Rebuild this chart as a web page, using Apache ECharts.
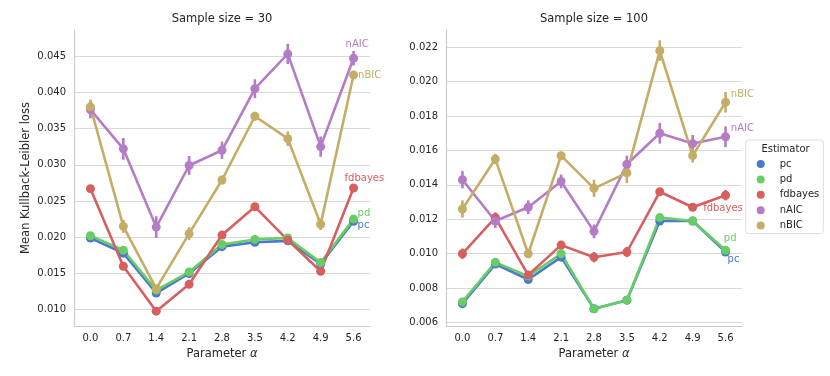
<!DOCTYPE html>
<html>
<head>
<meta charset="utf-8">
<script src="https://cdn.jsdelivr.net/npm/echarts@6/dist/echarts.min.js"></script>
<style>html,body{margin:0;padding:0;background:#fff;}#c{width:830px;height:376px;}</style>
</head>
<body>
<div id="c"></div>
<script>
const categories = ['0.0','0.7','1.4','2.1','2.8','3.5','4.2','4.9','5.6'];
const estimators = ['pc','pd','fdbayes','nAIC','nBIC'];
const yTicks30 = ['0.010','0.015','0.020','0.025','0.030','0.035','0.040','0.045'];
const yTicks100 = ['0.006','0.008','0.010','0.012','0.014','0.016','0.018','0.020','0.022'];

// Sample size = 30 : means
const pc30      = [0.0199,0.0178,0.0123,0.0150,0.0187,0.0193,0.0195,0.0163,0.0222];
const pd30      = [0.0202,0.0182,0.0127,0.0152,0.0190,0.0197,0.0199,0.0165,0.0225];
const fdbayes30 = [0.0267,0.0160,0.0098,0.0135,0.0203,0.0242,0.0196,0.0153,0.0268];
const nAIC30    = [0.0376,0.0322,0.0214,0.0299,0.0320,0.0405,0.0453,0.0325,0.0447];
const nBIC30    = [0.0380,0.0215,0.0129,0.0205,0.0279,0.0367,0.0336,0.0218,0.0424];
// Sample size = 30 : CI half-widths
const pcErr30      = [0.0003,0.0003,0.0003,0.0003,0.0003,0.0003,0.0003,0.0003,0.0003];
const pdErr30      = [0.0003,0.0003,0.0003,0.0003,0.0003,0.0003,0.0003,0.0003,0.0003];
const fdbayesErr30 = [0.0003,0.0003,0.0002,0.0003,0.0003,0.0003,0.0003,0.0003,0.0003];
const nAICErr30    = [0.0012,0.0015,0.0015,0.0013,0.0012,0.0013,0.0014,0.0014,0.0010];
const nBICErr30    = [0.0010,0.0009,0.0005,0.0009,0.0006,0.0006,0.0010,0.0008,0.0005];

// Sample size = 100 : means
const pc100      = [0.0071,0.0094,0.0085,0.0098,0.0068,0.0073,0.0119,0.0119,0.0101];
const pd100      = [0.0072,0.0095,0.0087,0.0100,0.0068,0.0073,0.0121,0.0119,0.0102];
const fdbayes100 = [0.0100,0.0121,0.00876,0.0105,0.0098,0.0101,0.0136,0.0127,0.0134];
const nAIC100    = [0.0143,0.0119,0.0127,0.0142,0.0113,0.0152,0.0170,0.0164,0.0168];
const nBIC100    = [0.0126,0.0155,0.0100,0.0157,0.0138,0.0147,0.0218,0.0157,0.0188];
// Sample size = 100 : CI half-widths
const pcErr100      = [0.0002,0.0002,0.0002,0.0002,0.0002,0.0002,0.0002,0.0002,0.0002];
const pdErr100      = [0.0002,0.0002,0.0002,0.0002,0.0002,0.0002,0.0002,0.0002,0.0002];
const fdbayesErr100 = [0.0003,0.0003,0.0002,0.0002,0.0003,0.0003,0.0002,0.0002,0.0003];
const nAICErr100    = [0.0005,0.0004,0.0004,0.0004,0.0004,0.0005,0.0006,0.0005,0.0006];
const nBICErr100    = [0.0005,0.0003,0.0002,0.0002,0.0005,0.0006,0.0006,0.0004,0.0006];

const colors = {pc:'#4878CF', pd:'#6ACC65', fdbayes:'#D65F5F', nAIC:'#B47CC7', nBIC:'#C4AD66'};
const FONT = 'DejaVu Sans';
const TXT = '#262626';

const panels = [
  {means:{pc:pc30,pd:pd30,fdbayes:fdbayes30,nAIC:nAIC30,nBIC:nBIC30},
   errs:{pc:pcErr30,pd:pdErr30,fdbayes:fdbayesErr30,nAIC:nAICErr30,nBIC:nBICErr30},
   offsets:{pc:[4,4],pd:[4,-6],fdbayes:[-9,-10],nAIC:[-8,-13.5],nBIC:[4.5,0]}},
  {means:{pc:pc100,pd:pd100,fdbayes:fdbayes100,nAIC:nAIC100,nBIC:nBIC100},
   errs:{pc:pcErr100,pd:pdErr100,fdbayes:fdbayesErr100,nAIC:nAICErr100,nBIC:nBICErr100},
   offsets:{pc:[2,7],pd:[-1.7,-11.5],fdbayes:[-22.4,13.6],nAIC:[5.3,-8],nBIC:[5.3,-7.5]}}
];

const series = [];
panels.forEach((p, pi) => {
  estimators.forEach(name => {
    const m = p.means[name], e = p.errs[name], col = colors[name];
    series.push({
      type:'custom', name: name + '-ci-' + pi, xAxisIndex: pi, yAxisIndex: pi,
      data: m.map((v,i) => [i, v - e[i], v + e[i]]),
      encode:{x:0, y:[1,2]},
      silent:true,
      renderItem:(params, api) => {
        const a = api.coord([api.value(0), api.value(1)]);
        const b = api.coord([api.value(0), api.value(2)]);
        return {type:'line', shape:{x1:a[0],y1:a[1],x2:b[0],y2:b[1]}, style:{stroke:col, lineWidth:2.6}};
      }
    });
    series.push({
      type:'line', name: name, xAxisIndex: pi, yAxisIndex: pi,
      data: m,
      symbol:'circle', symbolSize:9, showSymbol:true,
      lineStyle:{color:col, width:2.6},
      itemStyle:{color:col},
      endLabel:{show:true, formatter: name, distance:0, offset:p.offsets[name],
                color:col, fontFamily:FONT, fontSize:10, align:'left', verticalAlign:'middle'},
      emphasis:{disabled:true}
    });
  });
});

function xAxis(gi){
  return {type:'category', gridIndex:gi, data:categories, boundaryGap:true,
    axisLine:{show:true, lineStyle:{color:'#cccccc', width:1.2}},
    axisTick:{show:false},
    axisLabel:{color:TXT, fontFamily:FONT, fontSize:10, margin:7},
    splitLine:{show:false},
    name:'Parameter {i|α}', nameLocation:'middle', nameGap:20,
    nameTextStyle:{color:TXT, fontFamily:FONT, fontSize:11.5,
      rich:{i:{fontStyle:'italic', fontFamily:FONT, fontSize:11.5, color:TXT}}}
  };
}
function yAxis(gi, min, max, withName){
  const ax = {type:'value', gridIndex:gi, min:min, max:max, splitNumber:8,
    axisLine:{show:true, lineStyle:{color:'#cccccc', width:1.2}},
    axisTick:{show:false},
    axisLabel:{color:TXT, fontFamily:FONT, fontSize:10, margin:8, showMinLabel:false, showMaxLabel:false,
      formatter:v => v.toFixed(3)},
    splitLine:{show:true, showMinLine:false, showMaxLine:false, lineStyle:{color:'#d9d9d9', width:1.2}}
  };
  if (withName){
    ax.name = 'Mean Kullback-Leibler loss';
    ax.nameLocation = 'middle';
    ax.nameGap = 42;
    ax.nameTextStyle = {color:TXT, fontFamily:FONT, fontSize:11.5};
  }
  return ax;
}

const chart = echarts.init(document.getElementById('c'), null, {renderer:'canvas'});
chart.setOption({
  animation:false,
  backgroundColor:'#ffffff',
  grid:[
    {left:74, top:30, width:296, height:296},
    {left:446, top:30, width:296, height:296}
  ],
  xAxis:[xAxis(0), xAxis(1)],
  yAxis:[yAxis(0, 0.00775, 0.0486, true), yAxis(1, 0.0058, 0.0230, false)],
  legend:{
    data: estimators, orient:'vertical', left:745.7, top:140,
    icon:'circle', itemWidth:8, itemHeight:8, itemGap:5.4,
    padding:[19,4,3,11],
    backgroundColor:'#ffffff', borderColor:'#dddddd', borderWidth:1, borderRadius:3,
    textStyle:{color:TXT, fontFamily:FONT, fontSize:10, padding:[0,0,0,10]},
    selectedMode:false
  },
  graphic:[
    {type:'text', x:222, y:19, style:{text:'Sample size = 30', align:'center', verticalAlign:'middle', fill:TXT, font:'11.5px "DejaVu Sans"'}},
    {type:'text', x:594, y:19, style:{text:'Sample size = 100', align:'center', verticalAlign:'middle', fill:TXT, font:'11.5px "DejaVu Sans"'}},
    {type:'text', x:785.5, y:149, style:{text:'Estimator', align:'center', verticalAlign:'middle', fill:TXT, font:'10px "DejaVu Sans"'}, z:100}
  ],
  series: series
});
</script>
</body>
</html>
